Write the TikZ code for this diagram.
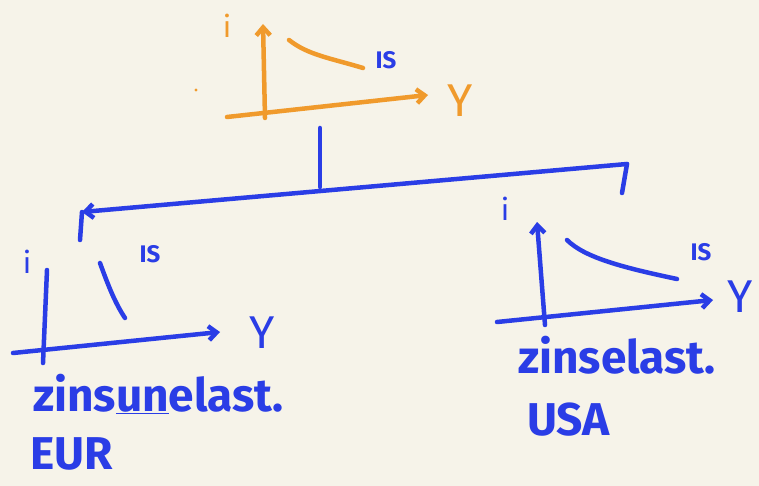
\documentclass[tikz,border=0pt]{standalone}
\usepackage{fontspec}
\setmainfont{Fira Sans}
\usetikzlibrary{arrows.meta}
\definecolor{pen}{HTML}{2A3DE6}
\definecolor{marker}{HTML}{F09A2C}
\definecolor{paper}{HTML}{F6F3E9}
\begin{document}
\begin{tikzpicture}[x=1pt,y=-1pt,>={Straight Barb[length=8pt,width=14pt]},
every node/.style={inner sep=0pt},
stroke/.style={line width=4.5pt,line cap=round,line join=round},
ink/.style={stroke,pen},
hl/.style={stroke,marker},
axlbl/.style={font=\fontsize{30}{30}\selectfont},
islbl/.style={font=\bfseries\fontsize{24}{24}\selectfont,text=pen},
ylbl/.style={font=\fontsize{46}{46}\selectfont},
note/.style={font=\fontsize{46}{48}\selectfont\bfseries,text=pen,anchor=west}]
\fill[paper] (0,0) rectangle (759,486);
\useasboundingbox (0,0) rectangle (759,486);
% top: orange IS diagram
\coordinate (to) at (265,118);
\coordinate (ti) at (263,24);
\coordinate (tx0) at (227,117);
\coordinate (ty) at (428,95);
\draw[hl,->] (to) -- (ti);
\draw[hl,->] (tx0) -- (ty);
\draw[hl] (289,40) .. controls (308,55) and (330,58) .. (363,68);
\node[axlbl,text=marker] (tilbl) at (227,26) {i};
\node[islbl] (tis) at (386,60) {IS};
\node[ylbl,text=marker] (tylbl) at (460,101) {Y};
\fill[marker] (196,90) circle (1.6pt);
% tree
\coordinate (stem) at (320,128);
\coordinate (mid) at (320,187);
\coordinate (lc) at (82,212);
\coordinate (ld) at (80,240);
\coordinate (rc) at (627,164);
\coordinate (rd) at (622,193);
\draw[ink] (stem) -- (mid);
\draw[ink,->] (rc) -- (lc);
\draw[ink] (lc) -- (ld);
\draw[ink] (rc) -- (rd);
% left: EUR
\coordinate (lo) at (43,363);
\coordinate (li) at (47,270);
\coordinate (lx0) at (13,353);
\coordinate (ly) at (220,332);
\draw[ink] (lo) -- (li);
\draw[ink,->] (lx0) -- (ly);
\draw[ink] (100,263) .. controls (108,285) and (115,303) .. (125,318);
\node[axlbl,text=pen] (lilbl) at (27,262) {i};
\node[islbl] (lis) at (150,254) {IS};
\node[ylbl,text=pen] (lylbl) at (262,333) {Y};
\node[note] (leff) at (33,394) {zins\underline{un}elast.};
\node[note] (eur) at (30,454) {EUR};
% right: USA
\coordinate (ro) at (545,325);
\coordinate (ri) at (537,222);
\coordinate (rx0) at (497,322);
\coordinate (ry) at (713,300);
\draw[ink,->] (ro) -- (ri);
\draw[ink,->] (rx0) -- (ry);
\draw[ink] (567,240) .. controls (585,258) and (625,268) .. (677,279);
\node[axlbl,text=pen] (rilbl) at (505,209) {i};
\node[islbl] (ris) at (701,252) {IS};
\node[ylbl,text=pen] (rylbl) at (740,297) {Y};
\node[note] (reff) at (518,355) {zinselast.};
\node[note] (usa) at (527,420) {USA};
\end{tikzpicture}
\end{document}
